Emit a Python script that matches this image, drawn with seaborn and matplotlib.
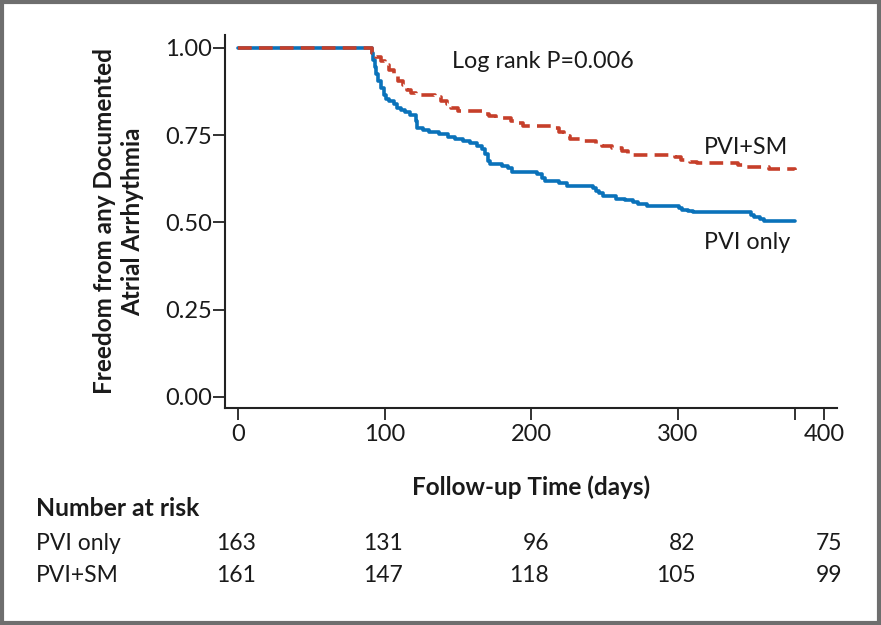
import matplotlib
matplotlib.use("Agg")
import matplotlib.pyplot as plt
import seaborn as sns
import pandas as pd
from matplotlib.patches import Rectangle

# Kaplan-Meier steps
time_pvi = [0, 91, 92, 93, 94, 95, 97, 99, 101, 103, 106, 108, 111, 114, 117, 121, 122, 126, 130,
            137, 143, 148, 153, 158, 163, 166, 168, 170, 172, 180, 184, 187, 204, 207, 209, 219,
            224, 242, 244, 246, 249, 258, 264, 269, 273, 279, 301, 303, 307, 310, 350, 352, 356,
            359, 380]
surv_pvi = [1.0, 0.985, 0.965, 0.945, 0.925, 0.905, 0.885, 0.865, 0.855, 0.848, 0.838, 0.828,
            0.822, 0.815, 0.808, 0.790, 0.770, 0.765, 0.758, 0.752, 0.745, 0.740, 0.733, 0.727,
            0.718, 0.710, 0.695, 0.675, 0.668, 0.662, 0.655, 0.645, 0.638, 0.628, 0.618, 0.612,
            0.603, 0.598, 0.590, 0.583, 0.575, 0.568, 0.564, 0.559, 0.553, 0.547, 0.541, 0.536,
            0.532, 0.529, 0.522, 0.514, 0.509, 0.503, 0.503]

time_sm = [0, 91, 94, 97, 100, 103, 106, 109, 112, 115, 118, 121, 134, 138, 142, 145, 150, 168,
           171, 176, 186, 190, 194, 216, 219, 222, 226, 236, 244, 248, 255, 262, 266, 268, 298,
           302, 308, 313, 341, 345, 362, 380]
surv_sm = [1.0, 0.985, 0.975, 0.962, 0.950, 0.937, 0.925, 0.905, 0.893, 0.880, 0.870, 0.865,
           0.858, 0.848, 0.838, 0.828, 0.820, 0.812, 0.805, 0.798, 0.790, 0.784, 0.775, 0.770,
           0.760, 0.748, 0.738, 0.732, 0.725, 0.720, 0.713, 0.705, 0.697, 0.693, 0.688, 0.680,
           0.674, 0.670, 0.664, 0.658, 0.652, 0.650]

# number at risk table
risk_times = [0, 100, 200, 300, 400]
risk_pvi = [163, 131, 96, 82, 75]
risk_sm = [161, 147, 118, 105, 99]

x_ticks = [0, 100, 200, 300, 380, 400]
x_ticklabels = ["0", "100", "200", "300", "", "400"]
y_ticks = [0.0, 0.25, 0.5, 0.75, 1.0]

BLUE = "#0a72ba"
RED = "#c63f2a"
INK = "#1a1a1a"

sns.set_theme(style="ticks")
plt.rcParams["font.family"] = ["Lato", "DejaVu Sans"]

df_pvi = pd.DataFrame({"t": time_pvi, "s": surv_pvi})
df_sm = pd.DataFrame({"t": time_sm, "s": surv_sm})

fig = plt.figure(figsize=(8.81, 6.25), dpi=100)
ax = fig.add_axes([0.2554, 0.3472, 0.6946, 0.5968])

sns.lineplot(data=df_pvi, x="t", y="s", ax=ax, color=BLUE, lw=2.6,
             drawstyle="steps-post", estimator=None, sort=False)
sns.lineplot(data=df_sm, x="t", y="s", ax=ax, color=RED, lw=2.6,
             drawstyle="steps-post", estimator=None, sort=False)
ax.lines[-1].set_dashes((3.8, 2.0))

ax.set_xlim(-9.2, 408.5)
ax.set_ylim(-0.032, 1.037)
ax.set_xticks(x_ticks)
ax.set_xticklabels(x_ticklabels)
ax.set_yticks(y_ticks)
ax.set_yticklabels([f"{v:.2f}" for v in y_ticks])
ax.tick_params(axis="both", direction="out", length=8.5, width=1.3, color="#222222",
               labelsize=17, labelcolor=INK)
ax.tick_params(axis="y", pad=1)
ax.tick_params(axis="x", pad=3)
sns.despine(ax=ax)
for side in ["left", "bottom"]:
    ax.spines[side].set_linewidth(1.5)
    ax.spines[side].set_color("#222222")

ax.set_xlabel("Follow-up Time (days)", fontweight="bold", fontsize=17.5, labelpad=22,
              color=INK)
ax.set_ylabel("Freedom from any Documented\nAtrial Arrhythmia", fontweight="bold",
              fontsize=17.5, labelpad=15, color=INK, linespacing=1.25)

ax.text(146, 0.96, "Log rank P=0.006", ha="left", va="center", fontsize=16.8, color=INK)
ax.text(318, 0.716, "PVI+SM", ha="left", va="center", fontsize=16.8, color=INK)
ax.text(318, 0.441, "PVI only", ha="left", va="center", fontsize=16.8, color=INK)

# number at risk
fig.text(36 / 881, 1 - 509 / 625, "Number at risk", fontweight="bold", fontsize=17.8,
         ha="left", va="center", color=INK)
rows = [("PVI only", risk_pvi, 1 - 543 / 625), ("PVI+SM", risk_sm, 1 - 576 / 625)]
for name, vals, yf in rows:
    fig.text(36 / 881, yf, name, fontsize=16.5, ha="left", va="center", color=INK)
    for t, n in zip(risk_times, vals):
        ax.annotate(str(n), xy=(t, yf), xycoords=("data", "figure fraction"),
                    xytext=(12.8, 0), textcoords="offset points", ha="right", va="center",
                    fontsize=16.5, color=INK, annotation_clip=False)

fig.patches.append(Rectangle((0.002, 0.003), 0.996, 0.994, transform=fig.transFigure,
                             fill=False, edgecolor="#6e6e6e", lw=3))

fig.savefig("out.png", dpi=100, facecolor="white")
